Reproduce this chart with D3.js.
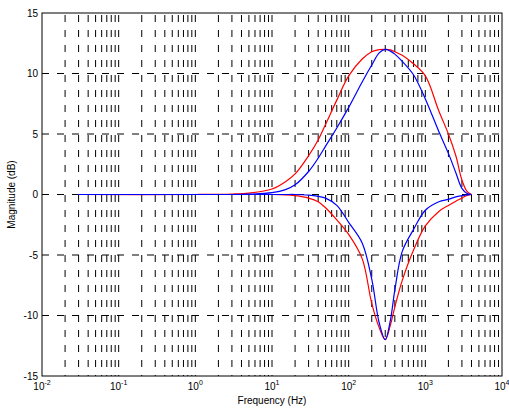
<!DOCTYPE html>
<html>
<head>
<meta charset="utf-8">
<script src="https://cdn.jsdelivr.net/npm/d3@7"></script>
<style>
  body { margin: 0; background: #fff; }
  text { font-family: Arial, "Liberation Sans", sans-serif; fill: #000; }
</style>
</head>
<body>
<script>
var width = 509,
	height = 409;

var margin = {top: 13, right: 7, bottom: 33, left: 42};
var plotW = width - margin.left - margin.right,
	plotH = height - margin.top - margin.bottom;

var freqs = [0.03, 1, 3, 5, 10, 15, 20, 30, 40, 50, 70, 100, 150, 200, 250, 300, 350, 400, 500, 700, 1000, 1500, 2000, 2500, 3000, 3500, 4000];

// Magnitude (dB) of each curve at those frequencies
var redBoost  = [0, 0, 0.04, 0.12, 0.45, 1.05, 1.7, 3.2, 4.5, 5.8, 7.8, 9.8, 11.2, 11.8, 11.97, 12, 11.95, 11.8, 11.5, 10.8, 9.8, 6.9, 5.0, 3.2, 1.2, 0.25, 0];
var blueBoost = [0, 0, 0, 0.03, 0.15, 0.4, 0.8, 1.9, 3.0, 4.0, 5.5, 7.2, 9.3, 10.7, 11.7, 12, 11.85, 11.6, 11.0, 9.9, 7.9, 5.2, 3.4, 1.8, 0.5, 0.08, 0];
var redCut    = [0, 0, 0, 0, 0, -0.03, -0.1, -0.3, -0.6, -1.1, -2.1, -3.3, -5.3, -9.0, -11.0, -12, -10.8, -9.3, -7.1, -4.6, -2.6, -1.4, -0.9, -0.55, -0.3, -0.08, 0];
var blueCut   = [0, 0, 0, 0, 0, 0, 0, -0.05, -0.15, -0.3, -0.9, -2.3, -4.0, -7.0, -10.6, -12, -10.4, -7.9, -4.7, -2.9, -1.3, -0.6, -0.4, -0.2, -0.1, -0.03, 0];

var yTicks = [-15, -10, -5, 0, 5, 10, 15];
var xExps = [-2, -1, 0, 1, 2, 3, 4];

var svg = d3.select("body").append("svg")
	.attr("width", width)
	.attr("height", height);

var g = svg.append("g")
	.attr("transform", "translate(" + margin.left + "," + margin.top + ")");

var x = d3.scaleLog()
	.domain([0.01, 10000])
	.range([0, plotW]);

var y = d3.scaleLinear()
	.domain([-15, 15])
	.range([plotH, 0]);

// Grid: every decade plus 2..9 inside each one
var gridX = [];
xExps.slice(0, -1).forEach(function(e) {
	for (var m = 1; m < 10; m++) {
		if (m == 1 && e == -2) continue;
		gridX.push(m * Math.pow(10, e));
	}
});

g.append("g")
	.selectAll("line")
	.data(gridX)
	.enter().append("line")
		.attr("x1", function(d) { return x(d); })
		.attr("x2", function(d) { return x(d); })
		.attr("y1", 0)
		.attr("y2", plotH)
		.attr("stroke", "#000")
		.attr("stroke-width", 1)
		.attr("stroke-dasharray", "7,8")
		.attr("stroke-dashoffset", -2);

g.append("g")
	.selectAll("line")
	.data(yTicks.slice(1, -1))
	.enter().append("line")
		.attr("x1", 0)
		.attr("x2", plotW)
		.attr("y1", function(d) { return y(d); })
		.attr("y2", function(d) { return y(d); })
		.attr("stroke", "#000")
		.attr("stroke-width", 1)
		.attr("stroke-dasharray", "7,8");

// Curves
var line = d3.line()
	.x(function(d) { return x(d[0]); })
	.y(function(d) { return y(d[1]); })
	.curve(d3.curveCatmullRom.alpha(0.5));

var series = [
	{values: redBoost, color: "#ff0000"},
	{values: redCut, color: "#ff0000"},
	{values: blueBoost, color: "#0000ff"},
	{values: blueCut, color: "#0000ff"}
];

g.selectAll(".curve")
	.data(series)
	.enter().append("path")
		.attr("class", "curve")
		.attr("fill", "none")
		.attr("stroke", function(d) { return d.color; })
		.attr("stroke-width", 1.2)
		.attr("d", function(d) { return line(d3.zip(freqs, d.values)); });

// Box
g.append("rect")
	.attr("width", plotW)
	.attr("height", plotH)
	.attr("fill", "none")
	.attr("stroke", "#000")
	.attr("stroke-width", 1);

// Y tick labels
g.selectAll(".ylab")
	.data(yTicks)
	.enter().append("text")
		.attr("class", "ylab")
		.attr("x", -4)
		.attr("y", function(d) { return y(d); })
		.attr("dy", "0.35em")
		.attr("text-anchor", "end")
		.style("font-size", "10px")
		.text(function(d) { return d; });

// X tick labels, 10 with a raised exponent
var xl = g.selectAll(".xlab")
	.data(xExps)
	.enter().append("text")
		.attr("class", "xlab")
		.attr("x", function(d) { return x(Math.pow(10, d)); })
		.attr("y", plotH + 14)
		.attr("text-anchor", "middle")
		.style("font-size", "10px");
xl.append("tspan").text("10");
xl.append("tspan")
	.attr("dy", -5)
	.style("font-size", "7px")
	.text(function(d) { return d; });

// Axis titles
g.append("text")
	.attr("x", plotW / 2)
	.attr("y", plotH + 28)
	.attr("text-anchor", "middle")
	.style("font-size", "10px")
	.text("Frequency (Hz)");

g.append("text")
	.attr("transform", "translate(-27," + (plotH / 2) + ") rotate(-90)")
	.attr("text-anchor", "middle")
	.style("font-size", "10px")
	.text("Magnitude (dB)");
</script>
</body>
</html>
